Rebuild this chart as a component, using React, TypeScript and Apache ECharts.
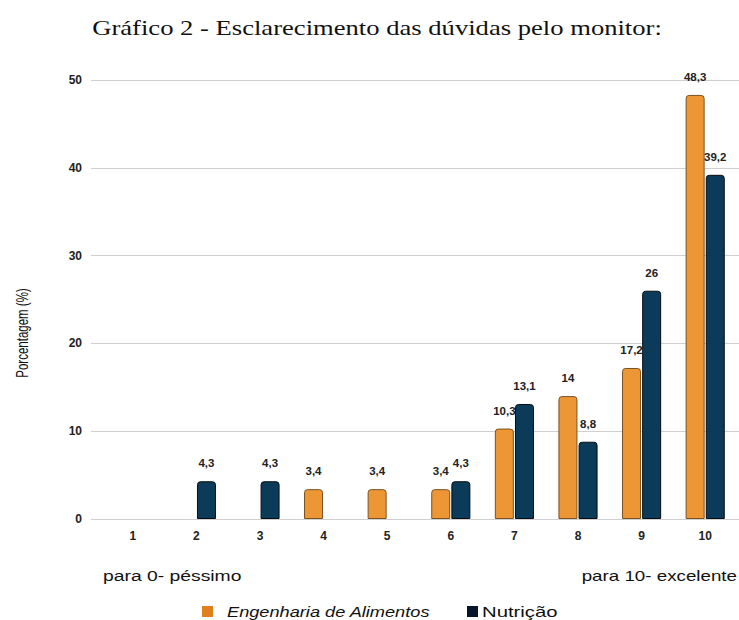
import React, { useEffect, useRef } from "react";
import * as echarts from "echarts";

const categories = ["1", "2", "3", "4", "5", "6", "7", "8", "9", "10"];
const engenharia = [0, 0, 0, 3.4, 3.4, 3.4, 10.3, 14, 17.2, 48.3];
const nutricao = [0, 4.3, 4.3, 0, 0, 4.3, 13.1, 8.8, 26, 39.2];
const yTicks = [0, 10, 20, 30, 40, 50];
const seriesNames = ["Engenharia de Alimentos", "Nutrição"];
const seriesColors = ["#EC9636", "#0C3B5A"];

const fmt = (v: number) => String(v).replace(".", ",");
const SANS = "Liberation Sans, Arial, sans-serif";

export default function App() {
  const ref = useRef<HTMLDivElement>(null);
  useEffect(() => {
    const chart = echarts.init(ref.current!, null, { renderer: "svg" });
    const top = 80;
    const bottom = 101;
    const labelStyle = {
      show: true,
      position: "top" as const,
      distance: 12,
      fontSize: 11.5,
      fontWeight: "bold" as const,
      color: "#222",
      fontFamily: SANS,
      formatter: (p: any) => (p.value ? fmt(p.value) : ""),
    };
    chart.setOption({
      animation: false,
      backgroundColor: "#fff",
      grid: [
        { left: 91, right: 0, top, bottom },
        { left: 101, right: 2, top, bottom },
      ],
      xAxis: [
        {
          type: "value",
          gridIndex: 0,
          min: 0,
          max: 1,
          axisLabel: { show: false },
          axisTick: { show: false },
          splitLine: { show: false },
          axisLine: { show: false },
        },
        {
          type: "category",
          gridIndex: 1,
          data: categories,
          axisTick: { show: false },
          axisLine: { show: false },
          axisLabel: {
            margin: 11,
            fontSize: 12,
            fontWeight: "bold",
            color: "#222",
            fontFamily: SANS,
          },
        },
      ],
      yAxis: [
        {
          type: "value",
          gridIndex: 0,
          min: 0,
          max: 50,
          interval: 10,
          axisLine: { show: false },
          axisTick: { show: false },
          axisLabel: {
            margin: 9,
            fontSize: 12,
            fontWeight: "bold",
            color: "#222",
            fontFamily: SANS,
            formatter: (v: number) => (yTicks.includes(v) ? String(v) : ""),
          },
          splitLine: { show: true, lineStyle: { color: "#cfcfcf", width: 1 } },
        },
        {
          type: "value",
          gridIndex: 1,
          min: 0,
          max: 50,
          interval: 10,
          show: false,
          splitLine: { show: false },
        },
      ],
      graphic: [
        {
          type: "text",
          x: 377,
          y: 27,
          scaleX: 1.21,
          style: {
            text: "Gráfico 2 - Esclarecimento das dúvidas pelo monitor:",
            fontSize: 22,
            fill: "#111",
            fontFamily: "Liberation Serif, Times New Roman, serif",
            textAlign: "center",
            textVerticalAlign: "middle",
          },
        },
        {
          type: "line",
          shape: { x1: 91, y1: 519.5, x2: 739, y2: 519.5 },
          style: { stroke: "#333", lineWidth: 1 },
        },
        {
          type: "text",
          x: 22,
          y: 333,
          rotation: Math.PI / 2,
          scaleY: 1.4,
          style: {
            text: "Porcentagem (%)",
            fontSize: 11.5,
            fill: "#111",
            fontFamily: SANS,
            textAlign: "center",
            textVerticalAlign: "middle",
          },
        },
        {
          type: "text",
          x: 103,
          y: 576,
          scaleX: 1.38,
          style: {
            text: "para 0- péssimo",
            fontSize: 14,
            fill: "#111",
            fontFamily: SANS,
            textAlign: "left",
            textVerticalAlign: "middle",
          },
        },
        {
          type: "text",
          x: 737,
          y: 576,
          scaleX: 1.34,
          style: {
            text: "para 10- excelente",
            fontSize: 14,
            fill: "#111",
            fontFamily: SANS,
            textAlign: "right",
            textVerticalAlign: "middle",
          },
        },
        {
          type: "rect",
          shape: { x: 202, y: 606, width: 11, height: 11 },
          style: { fill: "#E07F1E" },
        },
        {
          type: "text",
          x: 227,
          y: 612,
          scaleX: 1.3,
          style: {
            text: seriesNames[0],
            fontSize: 14,
            fontStyle: "italic",
            fill: "#111",
            fontFamily: SANS,
            textAlign: "left",
            textVerticalAlign: "middle",
          },
        },
        {
          type: "rect",
          shape: { x: 467, y: 606, width: 11, height: 11 },
          style: { fill: "#07152a" },
        },
        {
          type: "text",
          x: 482,
          y: 612,
          scaleX: 1.45,
          style: {
            text: seriesNames[1],
            fontSize: 14,
            fill: "#111",
            fontFamily: SANS,
            textAlign: "left",
            textVerticalAlign: "middle",
          },
        },
      ],
      series: [
        {
          name: seriesNames[0],
          type: "bar",
          xAxisIndex: 1,
          yAxisIndex: 1,
          data: engenharia.map((v) => (v ? v : null)),
          barWidth: 19,
          barGap: "6%",
          itemStyle: {
            color: seriesColors[0],
            borderColor: "#7a5222",
            borderWidth: 1,
            borderRadius: [3, 3, 0, 0],
          },
          label: labelStyle,
        },
        {
          name: seriesNames[1],
          type: "bar",
          xAxisIndex: 1,
          yAxisIndex: 1,
          data: nutricao.map((v) => (v ? v : null)),
          barWidth: 19,
          itemStyle: {
            color: seriesColors[1],
            borderColor: "#050d14",
            borderWidth: 1,
            borderRadius: [3, 3, 0, 0],
          },
          label: labelStyle,
        },
      ],
    });
    return () => chart.dispose();
  }, []);
  return (
    <div
      ref={ref}
      style={{ position: "absolute", left: 0, top: 0, width: 739, height: 620 }}
    />
  );
}
